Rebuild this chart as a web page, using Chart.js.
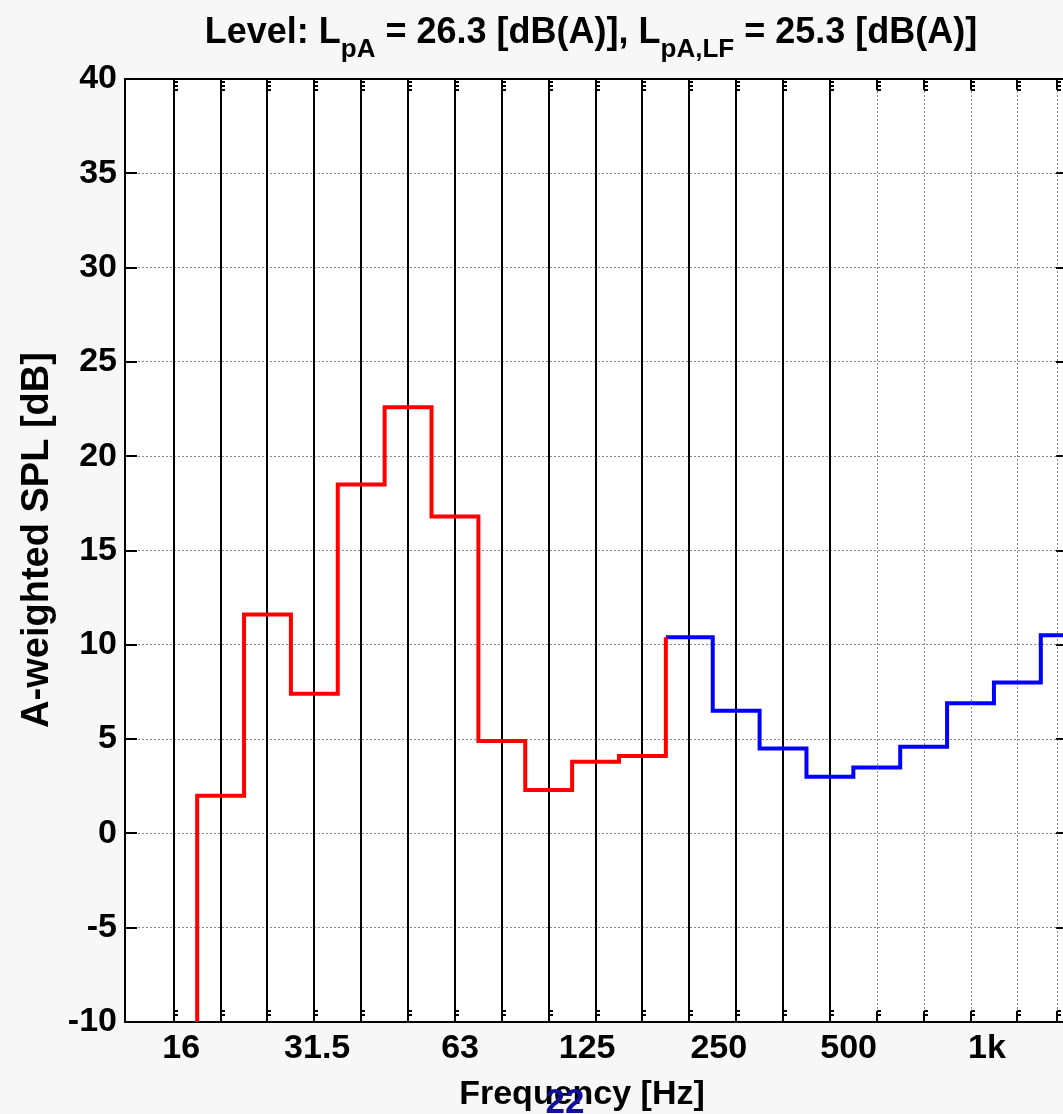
<!DOCTYPE html>
<html>
<head>
<meta charset="utf-8">
<title>A-weighted SPL, 1/3 octave bands</title>
<script src="https://cdn.jsdelivr.net/npm/chart.js@4.4.1/dist/chart.umd.min.js"></script>
<style>
  html, body { margin: 0; padding: 0; background: #f7f7f7; overflow: hidden; }
  #spl { display: block; }
</style>
</head>
<body>
<canvas id="spl" width="1080" height="1114"></canvas>
<script>
// band index on x: one unit per third-octave band, band 0 = first measured band
// low-frequency part (red) starts one band earlier with an off-scale level
const redStartBand = -1;
const redLevels = [-30, 2.0, 11.6, 7.4, 18.5, 22.6, 16.8, 4.9, 2.3, 3.8, 4.1];
const blueStartBand = 10;
const blueLevels = [10.4, 6.5, 4.5, 3.0, 3.5, 4.6, 6.9, 8.0, 10.5];

// frequency labels and where they sit on the band axis
const tickPos = [-0.84, 2.06, 5.11, 7.82, 10.63, 13.4, 16.35];
const tickLabels = ['16', '31.5', '63', '125', '250', '500', '1k'];

// vertical grid lines (dotted) and the solid band markers below 400 Hz
const gridX = [-1, 0, 1, 2, 3, 4, 5, 6, 7, 8, 9, 10, 11, 12, 13, 14, 15, 16, 17, 17.84];
const solidX = [-1, 0, 1, 2, 3, 4, 5, 6, 7, 8, 9, 10, 11, 12, 13];

const yTicks = [-10, -5, 0, 5, 10, 15, 20, 25, 30, 35, 40];

const FAMILY = '"Liberation Sans", Arial, Helvetica, sans-serif';

// level held across each band: point at the band's left edge, stepped line
function stepPoints(startBand, levels, closeLevel) {
    const pts = levels.map((v, i) => ({ x: startBand + i - 0.5, y: v }));
    const endX = startBand + levels.length - 0.5;
    pts.push({ x: endX, y: closeLevel !== undefined ? closeLevel : levels[levels.length - 1] });
    return pts;
}

const frame = {
    id: 'frame',
    beforeDraw(chart) {
        const { ctx, chartArea: a } = chart;
        ctx.save();
        ctx.fillStyle = '#f7f7f7';
        ctx.fillRect(0, 0, chart.width, chart.height);
        ctx.fillStyle = '#ffffff';
        ctx.fillRect(a.left, a.top, a.right - a.left, a.bottom - a.top);
        ctx.restore();
    },
    beforeDatasetsDraw(chart) {
        const { ctx, chartArea: a, scales: { x, y } } = chart;
        ctx.save();
        // dotted grid
        ctx.strokeStyle = '#8a8a8a';
        ctx.lineWidth = 1;
        ctx.setLineDash([2, 2]);
        gridX.forEach(v => {
            const px = Math.round(x.getPixelForValue(v)) + 0.5;
            ctx.beginPath();
            ctx.moveTo(px, a.top);
            ctx.lineTo(px, a.bottom);
            ctx.stroke();
        });
        ctx.setLineDash([]);
        // solid band lines
        ctx.strokeStyle = '#000';
        ctx.lineWidth = 2;
        solidX.forEach(v => {
            const px = Math.round(x.getPixelForValue(v));
            ctx.beginPath();
            ctx.moveTo(px, a.top);
            ctx.lineTo(px, a.bottom);
            ctx.stroke();
        });
        // small tick marks at top and bottom of each grid line
        ctx.lineWidth = 2;
        gridX.forEach(v => {
            const px = Math.round(x.getPixelForValue(v));
            ctx.beginPath();
            ctx.moveTo(px, a.top); ctx.lineTo(px, a.top + 11);
            ctx.moveTo(px, a.top + 3); ctx.lineTo(px + 4, a.top + 3);
            ctx.moveTo(px, a.top + 7); ctx.lineTo(px + 4, a.top + 7);
            ctx.moveTo(px, a.top + 11); ctx.lineTo(px + 4, a.top + 11);
            ctx.moveTo(px, a.bottom); ctx.lineTo(px, a.bottom - 11);
            ctx.moveTo(px, a.bottom - 11); ctx.lineTo(px + 4, a.bottom - 11);
            ctx.moveTo(px, a.bottom - 7); ctx.lineTo(px + 4, a.bottom - 7);
            ctx.stroke();
        });
        // y ticks pointing inward on both sides
        yTicks.forEach(v => {
            const py = Math.round(y.getPixelForValue(v));
            ctx.beginPath();
            ctx.moveTo(a.left, py); ctx.lineTo(a.left + 12, py);
            ctx.moveTo(a.right, py); ctx.lineTo(a.right - 12, py);
            ctx.stroke();
        });
        // top edge of the box
        ctx.beginPath();
        ctx.moveTo(a.left, a.top);
        ctx.lineTo(a.right, a.top);
        ctx.stroke();
        ctx.restore();
    },
    afterDraw(chart) {
        const { ctx } = chart;
        const titleFont = 'bold 36px ' + FAMILY;
        const subFont = 'bold 26px ' + FAMILY;
        ctx.save();
        ctx.fillStyle = '#000';
        ctx.textBaseline = 'alphabetic';

        // title with subscripts
        const parts = [
            ['Level: L', titleFont, 0], ['pA', subFont, 14],
            [' = 26.3 [dB(A)], L', titleFont, 0], ['pA,LF', subFont, 14],
            [' = 25.3 [dB(A)]', titleFont, 0]
        ];
        let total = 0;
        parts.forEach(p => { ctx.font = p[1]; total += ctx.measureText(p[0]).width; });
        let cx = 591 - total / 2;
        ctx.textAlign = 'left';
        parts.forEach(p => {
            ctx.font = p[1];
            ctx.fillText(p[0], cx, 43 + p[2]);
            cx += ctx.measureText(p[0]).width;
        });

        // axis titles
        ctx.font = 'bold 34px ' + FAMILY;
        ctx.textAlign = 'center';
        ctx.fillText('Frequency [Hz]', 582, 1104);
        ctx.save();
        ctx.font = 'bold 38px ' + FAMILY;
        ctx.translate(48, 540);
        ctx.rotate(-Math.PI / 2);
        ctx.fillText('A-weighted SPL [dB]', 0, 0);
        ctx.restore();

        // page number
        ctx.font = 'bold 35px ' + FAMILY;
        ctx.fillStyle = '#10109a';
        ctx.fillText('22', 565, 1113);
        ctx.restore();
    }
};

const tickFont = { family: FAMILY, size: 34, weight: 'bold' };

new Chart(document.getElementById('spl'), {
    type: 'line',
    data: {
        datasets: [
            {
                label: 'LF range',
                data: stepPoints(redStartBand, redLevels, blueLevels[0]),
                borderColor: '#ff0000',
                borderWidth: 4,
                stepped: 'before',
                pointRadius: 0,
                fill: false,
                order: 1
            },
            {
                label: 'upper range',
                data: stepPoints(blueStartBand, blueLevels),
                borderColor: '#0000ff',
                borderWidth: 4,
                stepped: 'before',
                pointRadius: 0,
                fill: false,
                order: 2
            }
        ]
    },
    options: {
        responsive: false,
        animation: false,
        events: [],
        layout: { padding: { top: 79, right: 12, bottom: 0, left: 0 } },
        plugins: {
            legend: { display: false },
            title: { display: false },
            tooltip: { enabled: false }
        },
        scales: {
            x: {
                type: 'linear',
                min: -2.04,
                max: 18.08,
                grid: { display: false, drawTicks: false },
                border: { display: true, color: '#000', width: 2 },
                afterBuildTicks: (scale) => {
                    scale.ticks = tickPos.map(v => ({ value: v }));
                },
                ticks: {
                    autoSkip: false,
                    maxRotation: 0,
                    padding: 6,
                    color: '#000',
                    font: tickFont,
                    callback: (value, index) => tickLabels[index]
                },
                afterFit: (scale) => { scale.height = 92; }
            },
            y: {
                min: -10,
                max: 40,
                afterBuildTicks: (scale) => {
                    scale.ticks = yTicks.map(v => ({ value: v }));
                },
                grid: { color: '#8a8a8a', lineWidth: 1, drawTicks: false },
                border: { display: true, color: '#000', width: 2, dash: [2, 2] },
                ticks: {
                    padding: 8,
                    color: '#000',
                    font: tickFont
                },
                afterFit: (scale) => { scale.width = 125; }
            }
        }
    },
    plugins: [frame]
});
</script>
</body>
</html>
